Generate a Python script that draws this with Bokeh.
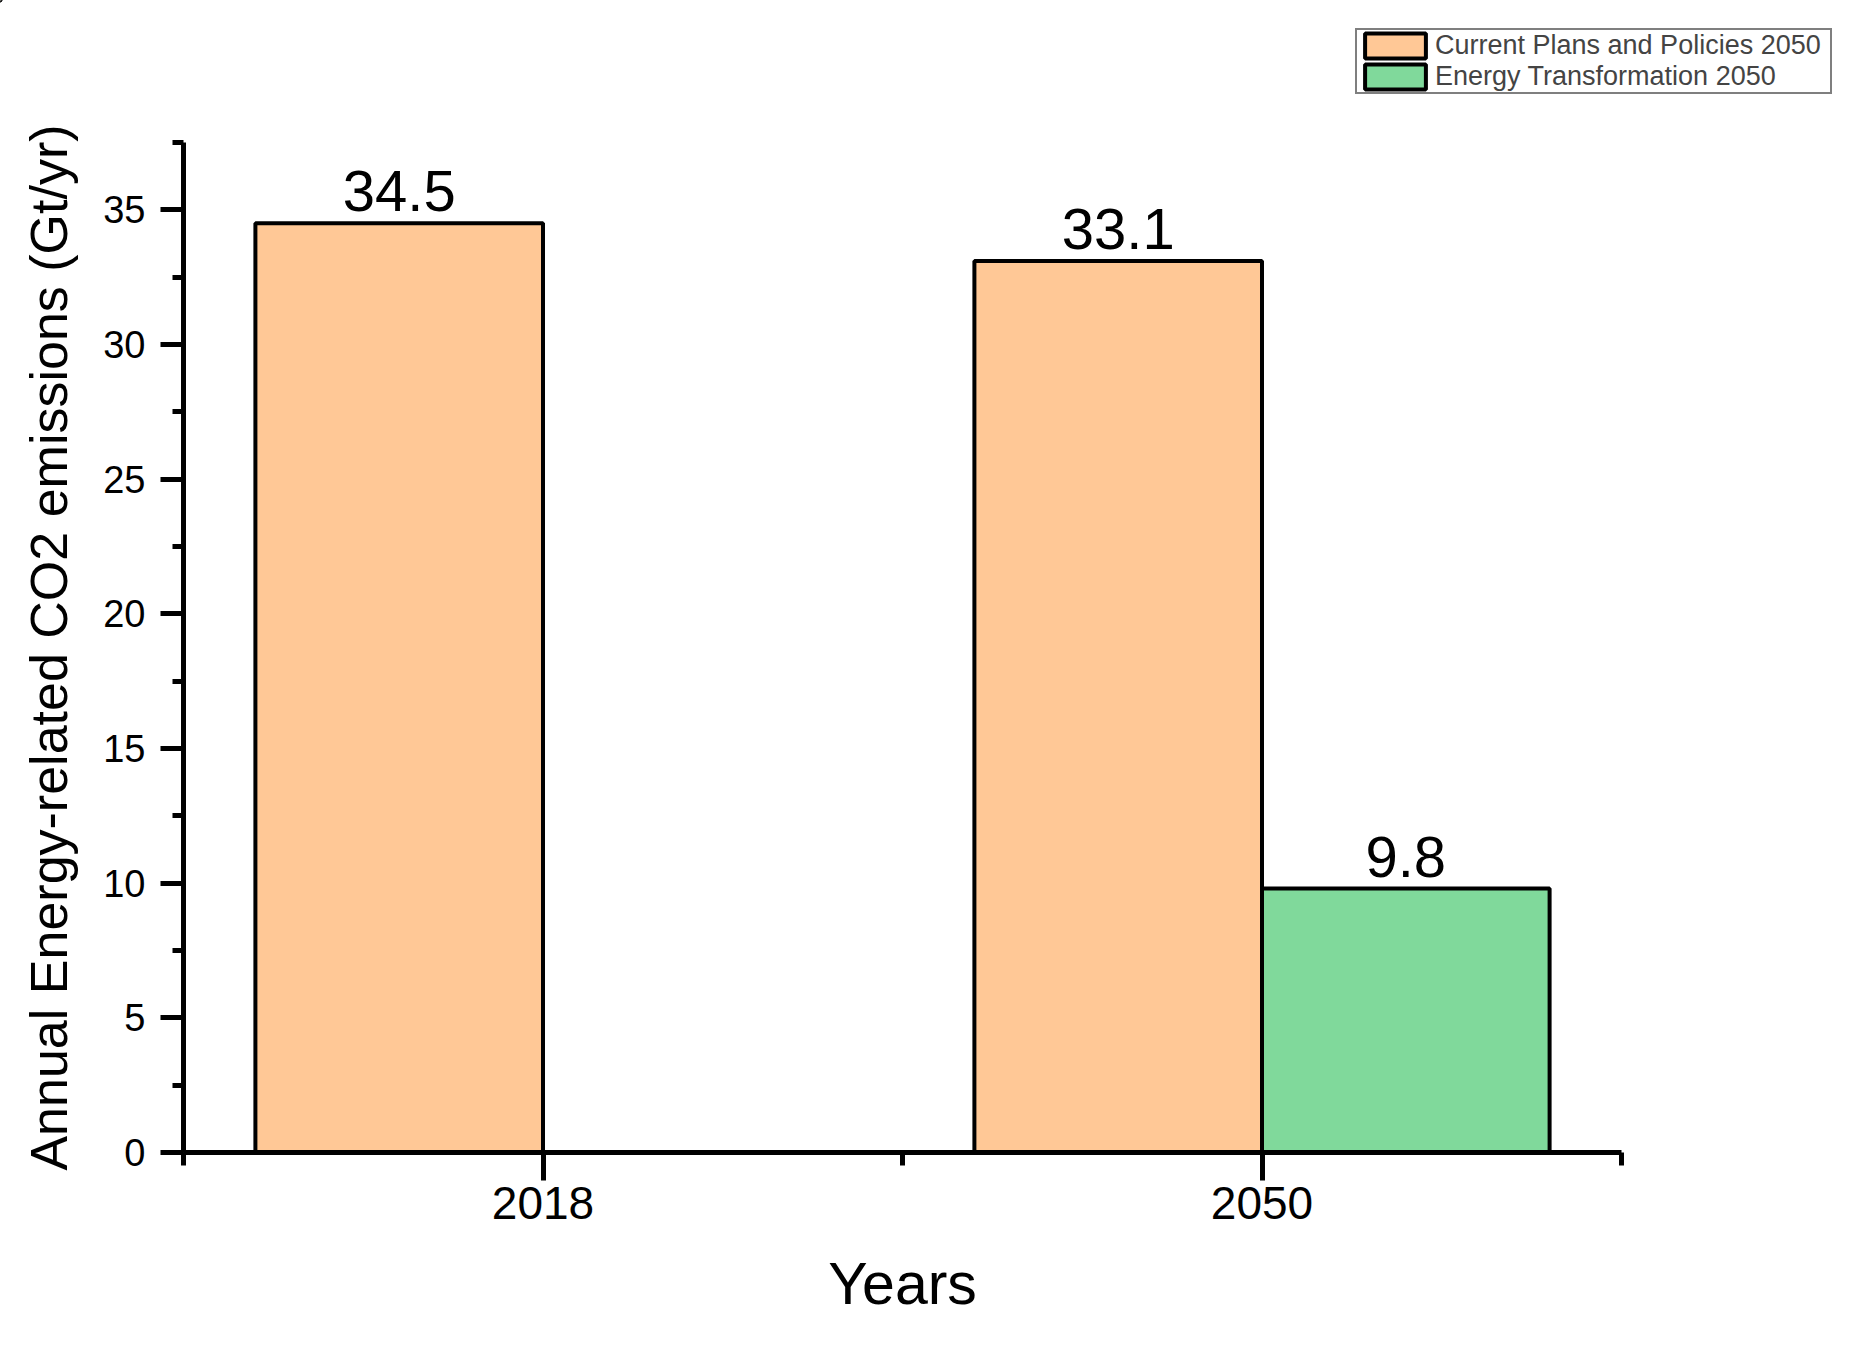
from bokeh.plotting import figure
from bokeh.models import (Range1d, FixedTicker, SingleIntervalTicker, Legend,
                          LegendItem, ColumnDataSource)
from bokeh.core.properties import value
from bokeh.embed import file_html
from bokeh.resources import INLINE

# ---- data ----
categories = ["2018", "2050"]
current_plans = [34.5, 33.1]
energy_transformation = [None, 9.8]
series_names = ["Current Plans and Policies 2050", "Energy Transformation 2050"]
y_label = "Annual Energy-related CO2 emissions (Gt/yr)"
x_label = "Years"

orange = "#FFC896"
green = "#80D99B"
FONT = "Liberation Sans"

LEFT, RIGHT, BOTTOM = 183, 220, 176
STRIP = 108          # height of the legend strip on top
TOP = 34             # extra top border of the main chart
FW, FH = 1438, 1010
W = LEFT + FW + RIGHT

# category centres on a numeric axis: 1, 3, ...
cat_pos = [2 * i + 1 for i in range(len(categories))]
bar_w = 0.8

src_a = ColumnDataSource(dict(
    x=[c - bar_w / 2 for c in cat_pos],
    top=current_plans,
    lab=[f"{v:.1f}" for v in current_plans],
))
tx = [c + bar_w / 2 for c, v in zip(cat_pos, energy_transformation) if v is not None]
tv = [v for v in energy_transformation if v is not None]
src_b = ColumnDataSource(dict(x=tx, top=tv, lab=[f"{v:.1f}" for v in tv]))

# ---- legend strip (top); its bars lie outside its view, only the legend shows ----
lf = figure(output_backend="svg", toolbar_location=None, width=W, height=STRIP,
            min_border=0, x_axis_type=None, y_axis_type=None,
            x_range=Range1d(5, 6), y_range=Range1d(-3, -2))
lf.outline_line_color = None
lf.xgrid.visible = False
lf.ygrid.visible = False
la = lf.vbar(x="x", top="top", width=bar_w, bottom=0, source=src_a,
             fill_color=orange, line_color="black", line_width=4)
lb = lf.vbar(x="x", top="top", width=bar_w, bottom=0, source=src_b,
             fill_color=green, line_color="black", line_width=4)
legend = Legend(
    items=[LegendItem(label=series_names[0], renderers=[la]),
           LegendItem(label=series_names[1], renderers=[lb])],
    location=(1355, STRIP - 94),
    orientation="vertical",
    label_text_font=FONT, label_text_font_size="27px",
    glyph_width=76, glyph_height=31, label_height=31, label_width=395,
    spacing=0, padding=0, margin=0, label_standoff=2,
    border_line_color="black", border_line_width=2,
    background_fill_color="white", background_fill_alpha=1.0,
)
lf.add_layout(legend, "center")

# ---- main chart ----
p = figure(
    output_backend="svg", toolbar_location=None,
    frame_width=FW, frame_height=FH,
    min_border_left=LEFT, min_border_top=TOP, min_border_right=RIGHT, min_border_bottom=BOTTOM,
    x_range=Range1d(0, 2 * len(categories)), y_range=Range1d(0, 37.5),
)
p.outline_line_color = None
p.xgrid.visible = False
p.ygrid.visible = False
p.background_fill_color = "white"
p.border_fill_color = "white"

ra = p.vbar(x="x", top="top", width=bar_w, bottom=0, source=src_a,
            fill_color=orange, line_color="black", line_width=4)
rb = p.vbar(x="x", top="top", width=bar_w, bottom=0, source=src_b,
            fill_color=green, line_color="black", line_width=4)

for s in (src_a, src_b):
    p.text(x="x", y="top", text="lab", source=s, text_align="center",
           text_baseline="alphabetic", y_offset=-32,
           text_font=value(FONT), text_font_size="58px", text_color="black")

# x axis
xa = p.xaxis[0]
xa.ticker = FixedTicker(ticks=cat_pos,
                        minor_ticks=[2 * i for i in range(len(categories) + 1)])
xa.major_label_overrides = {c: lab for c, lab in zip(cat_pos, categories)}
xa.axis_label = x_label
xa.axis_label_text_font = FONT
xa.axis_label_text_font_size = "59px"
xa.axis_label_text_font_style = "normal"
xa.axis_label_standoff = 29
xa.major_label_text_font = FONT
xa.major_label_text_font_size = "46px"
xa.major_label_standoff = 6
xa.axis_line_width = 5
xa.major_tick_line_width = 5
xa.minor_tick_line_width = 5
xa.major_tick_out = 28
xa.major_tick_in = 0
xa.minor_tick_out = 13
xa.minor_tick_in = 0

# y axis
ya = p.yaxis[0]
ya.ticker = SingleIntervalTicker(interval=5, num_minor_ticks=2)
ya.axis_label = y_label
ya.axis_label_text_font = FONT
ya.axis_label_text_font_size = "52px"
ya.axis_label_text_font_style = "normal"
ya.axis_label_standoff = 22
ya.major_label_text_font = FONT
ya.major_label_text_font_size = "38px"
ya.major_label_standoff = 15
ya.axis_line_width = 5
ya.major_tick_line_width = 5
ya.minor_tick_line_width = 5
ya.major_tick_out = 23
ya.major_tick_in = 0
ya.minor_tick_out = 11
ya.minor_tick_in = 0
for ax in (xa, ya):
    ax.axis_line_color = "black"
    ax.major_tick_line_color = "black"
    ax.minor_tick_line_color = "black"
    ax.major_label_text_color = "black"
    ax.axis_label_text_color = "black"

open("out.html", "w").write(file_html([lf, p], INLINE))
